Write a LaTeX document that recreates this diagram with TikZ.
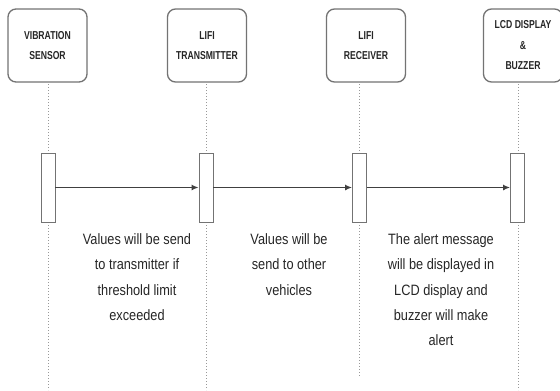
\documentclass[tikz,border=0pt]{standalone}
\usepackage{fontspec}
\setmainfont{Liberation Sans}[FakeStretch=0.85]
\newfontfamily\labelfont{Liberation Sans}[FakeStretch=0.75]
\usetikzlibrary{arrows.meta}
\begin{document}
\begin{tikzpicture}[x=1pt,y=-1pt,
  actor/.style={draw=black!55,line width=1.3pt,rounded corners=8pt,fill=white,
    minimum width=79pt,minimum height=73pt,inner sep=0pt,align=center,
    font=\labelfont\fontsize{11.5}{20.5}\selectfont\bfseries,text=black!85},
  lifeline/.style={draw=black!40,line width=1pt,dotted},
  bar/.style={draw=black!55,line width=0.8pt,fill=white,minimum width=14pt,
    minimum height=69pt,inner sep=0pt},
  msg/.style={draw=black!75,line width=1.6pt,-{Latex[length=7pt,width=6pt]}},
  note/.style={align=center,anchor=north,text=black!85,
    font=\fontsize{15}{25.3}\selectfont,inner sep=0pt}]
\useasboundingbox (0,0) rectangle (560,391);

% participants
\node[actor] (a1) at (47.5,45.5) {VIBRATION\\SENSOR};
\node[actor] (a2) at (207,45.5) {LIFI\\TRANSMITTER};
\node[actor] (a3) at (366,45.5) {LIFI\\RECEIVER};
\node[actor] (a4) at (523,45.5) {LCD DISPLAY\\\&\\BUZZER};

% lifeline end points
\coordinate (t1) at (48,84);   \coordinate (e1) at (48,390);
\coordinate (t2) at (206,84);  \coordinate (e2) at (206,390);
\coordinate (t3) at (359,84);  \coordinate (e3) at (359,376);
\coordinate (t4) at (518,84);  \coordinate (e4) at (518,390);

\foreach \i in {1,2,3,4} \draw[lifeline] (t\i) -- (e\i);

% activation bars
\node[bar] (b1) at (48,187.5) {};
\node[bar] (b2) at (206,187.5) {};
\node[bar] (b3) at (359.5,187.5) {};
\node[bar] (b4) at (517.5,187.5) {};

% messages
\draw[msg] (b1.east) -- (b2.west);
\draw[msg] (b2.east) -- (b3.west);
\draw[msg] (b3.east) -- (b4.west);

% message descriptions
\node[note] (n1) at (137,233.5) {Values will be send\\to transmitter if\\threshold limit\\exceeded};
\node[note] (n2) at (289,233.5) {Values will be\\send to other\\vehicles};
\node[note] (n3) at (441,233.5) {The alert message\\will be displayed in\\LCD display and\\buzzer will make\\alert};
\end{tikzpicture}
\end{document}
